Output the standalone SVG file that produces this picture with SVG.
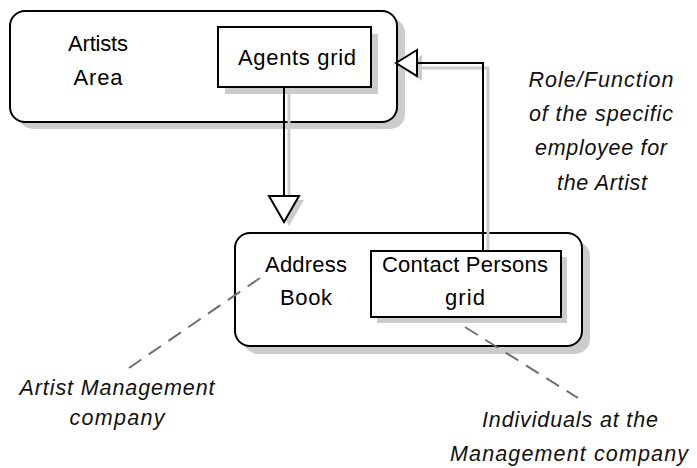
<svg xmlns="http://www.w3.org/2000/svg" width="697" height="468" viewBox="0 0 697 468">
  <style>
    .shadow { fill: #cccccc; stroke: none; }
    .frame { fill: #ffffff; stroke: #000000; stroke-width: 2; }
    .label { font-family: "Liberation Sans", Arial, sans-serif; font-size: 22px; fill: #000000; text-anchor: middle; }
    .note { font-family: "Liberation Sans", Arial, sans-serif; font-size: 21.5px; font-style: italic; fill: #111111; text-anchor: middle; }
    .wire { fill: none; stroke: #000000; stroke-width: 2; }
    .wire-shadow { fill: none; stroke: #cccccc; stroke-width: 3; }
    .head { fill: #ffffff; stroke: #000000; stroke-width: 2; stroke-linejoin: miter; }
    .head-shadow { fill: #cccccc; stroke: none; }
    .dash { fill: none; stroke: #6e6e6e; stroke-width: 2; stroke-dasharray: 15 9; }
  </style>

  <!-- Artists Area container with its Agents grid -->
  <g id="artists-area">
    <rect class="shadow" x="18" y="18" width="387" height="111" rx="15"/>
    <rect class="frame" x="10" y="11" width="387" height="111" rx="15"/>
    <text class="label" x="98" y="51" textLength="60" lengthAdjust="spacing">Artists</text>
    <text class="label" x="98" y="85" textLength="49" lengthAdjust="spacing">Area</text>
  </g>
  <g id="agents-grid">
    <rect class="shadow" x="225" y="34" width="153" height="60"/>
    <rect class="frame" x="218" y="27" width="153" height="60"/>
    <text class="label" x="297" y="65" textLength="118" lengthAdjust="spacing">Agents grid</text>
  </g>

  <!-- Address Book container with its Contact Persons grid -->
  <g id="address-book">
    <rect class="shadow" x="243" y="241" width="347" height="113" rx="15"/>
    <rect class="frame" x="235" y="233" width="347" height="113" rx="15"/>
    <text class="label" x="306" y="272" textLength="82" lengthAdjust="spacing">Address</text>
    <text class="label" x="306" y="305" textLength="52" lengthAdjust="spacing">Book</text>
  </g>
  <g id="contact-persons-grid">
    <rect class="shadow" x="377" y="257" width="190" height="66"/>
    <rect class="frame" x="371" y="251" width="190" height="66"/>
    <text class="label" x="465" y="272" textLength="166" lengthAdjust="spacing">Contact Persons</text>
    <text class="label" x="465" y="305" textLength="40" lengthAdjust="spacing">grid</text>
  </g>

  <!-- Free-standing notes -->
  <g id="role-note">
    <text class="note" x="601" y="87" textLength="145" lengthAdjust="spacing">Role/Function</text>
    <text class="note" x="601" y="121" textLength="144" lengthAdjust="spacing">of the specific</text>
    <text class="note" x="601" y="155" textLength="132" lengthAdjust="spacing">employee for</text>
    <text class="note" x="602" y="190" textLength="90" lengthAdjust="spacing">the Artist</text>
  </g>
  <g id="management-note">
    <text class="note" x="117" y="395" textLength="195" lengthAdjust="spacing">Artist Management</text>
    <text class="note" x="117" y="425" textLength="95" lengthAdjust="spacing">company</text>
  </g>
  <g id="individuals-note">
    <text class="note" x="570" y="427" textLength="176" lengthAdjust="spacing">Individuals at the</text>
    <text class="note" x="569" y="461" textLength="238" lengthAdjust="spacing">Management company</text>
  </g>

  <!-- Connectors -->
  <g id="connectors">
    <!-- Agents grid -> Address Book -->
    <line class="wire-shadow" x1="289" y1="92" x2="289" y2="198"/>
    <polygon class="head-shadow" points="274,200 304,200 289,226"/>
    <line class="wire" x1="284" y1="88" x2="284" y2="196"/>
    <polygon class="head" points="269,196 299,196 284,222"/>

    <!-- Contact Persons grid -> Agents grid area -->
    <polyline class="wire-shadow" points="488,250 488,68 420,68"/>
    <polygon class="head-shadow" points="401,68 422,55 422,81"/>
    <polyline class="wire" points="483,250 483,63 417,63"/>
    <polygon class="head" points="396,63 417,50 417,76"/>

    <!-- Annotation leaders -->
    <line class="dash" x1="260" y1="278" x2="129" y2="368"/>
    <line class="dash" x1="465" y1="327" x2="578" y2="398"/>
  </g>
</svg>
